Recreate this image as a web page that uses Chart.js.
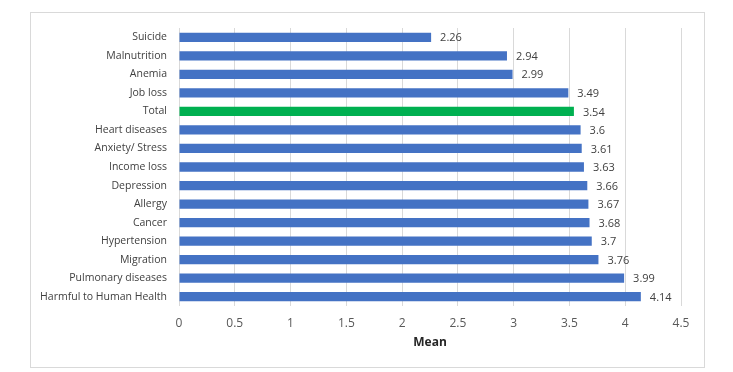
<!DOCTYPE html>
<html>
<head>
<meta charset="utf-8">
<script src="https://cdn.jsdelivr.net/npm/chart.js@4/dist/chart.umd.min.js"></script>
<style>
  html, body { margin: 0; padding: 0; background: #fff; }
  #wrap { position: relative; width: 733px; height: 372px; }
</style>
</head>
<body>
<div id="wrap"><canvas id="chart" width="733" height="372"></canvas></div>
<script>
const categories = [
  "Suicide", "Malnutrition", "Anemia", "Job loss", "Total",
  "Heart diseases", "Anxiety/ Stress", "Income loss", "Depression", "Allergy",
  "Cancer", "Hypertension", "Migration", "Pulmonary diseases", "Harmful to Human Health"
];
const means = [2.26, 2.94, 2.99, 3.49, 3.54, 3.6, 3.61, 3.63, 3.66, 3.67, 3.68, 3.7, 3.76, 3.99, 4.14];
const xTicks = [0, 0.5, 1, 1.5, 2, 2.5, 3, 3.5, 4, 4.5];

const BLUE = "#4472C4";
const GREEN = "#00B050";
const FONT = "'Open Sans', 'Noto Sans', sans-serif";

// border round the chart area, like the office chart frame
const frame = {
  id: "frame",
  beforeDraw(chart) {
    const c = chart.ctx;
    c.save();
    c.strokeStyle = "#d9d9d9";
    c.lineWidth = 1;
    c.strokeRect(30.5, 12.5, 674, 355);
    c.restore();
  }
};

// value labels at the bar ends
const barValues = {
  id: "barValues",
  afterDatasetsDraw(chart) {
    const c = chart.ctx;
    const meta = chart.getDatasetMeta(0);
    c.save();
    c.font = "11px " + FONT;
    c.fillStyle = "#404040";
    c.textBaseline = "middle";
    c.textAlign = "left";
    meta.data.forEach((bar, i) => {
      c.fillText(String(means[i]), bar.x + 9, bar.y + 1);
    });
    c.restore();
  }
};

new Chart(document.getElementById("chart"), {
  type: "bar",
  data: {
    labels: categories,
    datasets: [{
      data: means,
      backgroundColor: categories.map(c => c === "Total" ? GREEN : BLUE),
      borderWidth: 0,
      barPercentage: 0.5,
      categoryPercentage: 1
    }]
  },
  options: {
    indexAxis: "y",
    responsive: false,
    animation: false,
    layout: { padding: { left: 30, right: 52, top: 28, bottom: 18 } },
    plugins: {
      legend: { display: false },
      tooltip: { enabled: false }
    },
    scales: {
      x: {
        min: 0,
        max: 4.5,
        afterBuildTicks: (scale) => { scale.ticks = xTicks.map(v => ({ value: v })); },
        afterFit: (scale) => { scale.height = 372 - 306 - 18; },
        grid: { color: "#d9d9d9", drawTicks: false },
        border: { display: false },
        ticks: {
          color: "#595959",
          font: { size: 12, family: FONT },
          padding: 10,
          callback: (v) => String(v)
        },
        title: {
          display: true,
          text: "Mean",
          color: "#262626",
          font: { size: 12, weight: "bold", family: FONT },
          padding: { top: 9 }
        }
      },
      y: {
        afterFit: (scale) => { scale.width = 179 - 30; },
        grid: { display: false, drawTicks: false },
        border: { display: false },
        ticks: {
          color: "#404040",
          font: { size: 10.5, family: FONT },
          padding: 12,
          autoSkip: false
        }
      }
    }
  },
  plugins: [frame, barValues]
});
</script>
</body>
</html>
